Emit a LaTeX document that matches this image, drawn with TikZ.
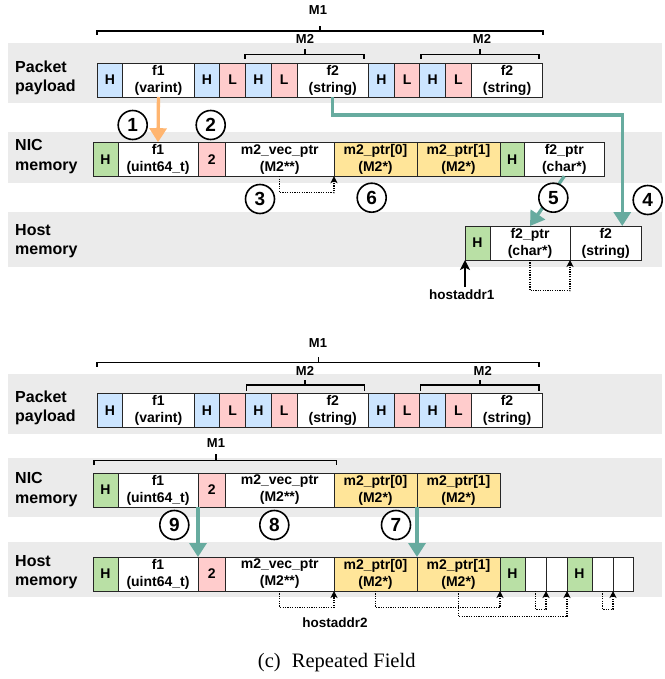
\documentclass[tikz,border=0pt]{standalone}
\usepackage{fontspec}
\setmainfont{Liberation Serif}
\setsansfont{Liberation Sans}
\usetikzlibrary{positioning, arrows.meta, calc}

\definecolor{bandGray}{HTML}{EBEBEB}
\definecolor{hdrBlue}{HTML}{CCE5FF}
\definecolor{lenPink}{HTML}{FFCCCC}
\definecolor{tagGreen}{HTML}{B9E0A5}
\definecolor{ptrYellow}{HTML}{FFE599}
\definecolor{flowOrange}{HTML}{FFB570}
\definecolor{flowTeal}{HTML}{67AB9F}

\begin{document}
\begin{tikzpicture}[
    x=1pt, y=-1pt,
    cell/.style={draw=black!85, line width=0.9pt, outer sep=0pt, inner sep=0pt,
        minimum height=34pt, align=center, font=\sffamily\bfseries\fontsize{14}{17}\selectfont},
    hdr/.style={cell, fill=hdrBlue, minimum width=25.7pt},
    len/.style={cell, fill=lenPink, minimum width=25.7pt},
    fld/.style={cell, fill=white, minimum width=71.5pt},
    tag/.style={cell, fill=tagGreen, minimum width=25pt},
    cnt/.style={cell, fill=lenPink, minimum width=27.5pt},
    ptr/.style={cell, fill=ptrYellow, minimum width=83pt},
    slot/.style={cell, fill=white, minimum width=21pt},
    rowlabel/.style={anchor=west, align=left, inner sep=0pt,
        font=\sffamily\bfseries\fontsize{16}{19.5}\selectfont},
    grp/.style={line width=1.4pt},
    grplabel/.style={inner sep=0pt, font=\sffamily\bfseries\fontsize{13}{15}\selectfont},
    stepnum/.style={circle, draw, fill=white, line width=1.6pt, minimum size=29pt, inner sep=0pt,
        font=\sffamily\bfseries\fontsize{19}{19}\selectfont},
    orangeflow/.style={flowOrange, line width=3.3pt, -{Triangle[width=17pt,length=14pt]}},
    tealflow/.style={flowTeal, line width=3.3pt, -{Triangle[width=17pt,length=14pt]}},
    dotlink/.style={line width=1.2pt, dash pattern=on 1.2pt off 1.2pt,
        -{Stealth[length=7pt,width=7pt,inset=2pt]}},
    addrlabel/.style={inner sep=3pt, font=\sffamily\bfseries\fontsize{13.5}{15}\selectfont},
    addrarrow/.style={line width=1.7pt, -{Stealth[length=10pt,width=10pt,inset=2.5pt]}}
]
    \useasboundingbox (0,0) rectangle (664,679);

    % background bands
    \fill[bandGray] (8,43) rectangle (662,103);
    \fill[bandGray] (8,131.7) rectangle (662,182.7);
    \fill[bandGray] (8,211.7) rectangle (662,266.7);
    \fill[bandGray] (8,374.3) rectangle (662,434.3);
    \fill[bandGray] (8,458.3) rectangle (662,517.3);
    \fill[bandGray] (8,542.3) rectangle (662,596.7);

    % ---------- upper half ----------
    \node[rowlabel] (lpay) at (15,77.7) {Packet\\payload};
    \node[rowlabel] (lnic) at (15,156.5) {NIC\\memory};
    \node[rowlabel] (lhost) at (15,241.2) {Host\\memory};

    \node[hdr, anchor=west] (pH1) at (97,80) {H};
    \node[fld, right=0pt of pH1] (pf1) {f1\\(varint)};
    \node[hdr, right=0pt of pf1] (pH2) {H};
    \node[len, right=0pt of pH2] (pL2) {L};
    \node[hdr, right=0pt of pL2] (pH3) {H};
    \node[len, right=0pt of pH3] (pL3) {L};
    \node[fld, right=0pt of pL3] (pf2) {f2\\(string)};
    \node[hdr, right=0pt of pf2] (pH4) {H};
    \node[len, right=0pt of pH4] (pL4) {L};
    \node[hdr, right=0pt of pL4] (pH5) {H};
    \node[len, right=0pt of pH5] (pL5) {L};
    \node[fld, right=0pt of pL5] (pf3) {f2\\(string)};

    % message brackets
    \draw[grp] (97,35) -- (97,31) -- (543,31) -- (543,35) (320,31) -- (320,26);
    \node[grplabel] (gM1) at (318,10.5) {M1};
    \draw[grp] (245,59) -- (245,54.3) -- (364,54.3) -- (364,59) (305,54.3) -- (305,49.3);
    \node[grplabel] (gM2a) at (305,39) {M2};
    \draw[grp] (421,59) -- (421,54.3) -- (539,54.3) -- (539,59) (480,54.3) -- (480,49.3);
    \node[grplabel] (gM2b) at (482,39) {M2};

    \node[tag, anchor=west] (nH1) at (93,159.2) {H};
    \node[fld, minimum width=80pt, right=0pt of nH1] (nf1) {f1\\(uint64\_t)};
    \node[cnt, right=0pt of nf1] (ncnt) {2};
    \node[fld, minimum width=108.5pt, right=0pt of ncnt] (nvec) {m2\_vec\_ptr\\(M2**)};
    \node[ptr, right=0pt of nvec] (np0) {m2\_ptr[0]\\(M2*)};
    \node[ptr, right=0pt of np0] (np1) {m2\_ptr[1]\\(M2*)};
    \node[tag, minimum width=24.5pt, right=0pt of np1] (nH2) {H};
    \node[fld, minimum width=79.5pt, right=0pt of nH2] (nf2p) {f2\_ptr\\(char*)};

    \node[tag, anchor=west] (hH1) at (465,243) {H};
    \node[fld, minimum width=80pt, right=0pt of hH1] (hf2p) {f2\_ptr\\(char*)};
    \node[fld, right=0pt of hf2p] (hf2) {f2\\(string)};

    \draw[orangeflow] (pf1.south) -- (nf1.north);
    \draw[tealflow] (pf2.south) -- ++(0,18) -| ([xshift=16.5pt]hf2.north);
    \draw[tealflow] (nf2p.south) -- (hf2p.north);

    \draw[dotlink] (nvec.south) -- ++(0,16.5) -| (nvec.south east);
    \draw[dotlink] (hf2p.south) -- ++(0,30.7) -| (hf2p.south east);

    \node[addrlabel] (haddr1) at (461.7,295) {hostaddr1};
    \draw[addrarrow] (haddr1.north -| hH1.south west) -- (hH1.south west);

    \node[stepnum] (s1) at (132.7,125) {1};
    \node[stepnum] (s2) at (210.7,125) {2};
    \node[stepnum] (s3) at (260,199) {3};
    \node[stepnum] (s4) at (647.7,200) {4};
    \node[stepnum] (s5) at (553.3,197.7) {5};
    \node[stepnum] (s6) at (371.7,197.7) {6};

    % ---------- lower half ----------
    \node[rowlabel] (blpay) at (15,407.7) {Packet\\payload};
    \node[rowlabel] (blnic) at (15,489.5) {NIC\\memory};
    \node[rowlabel] (blhost) at (15,572.2) {Host\\memory};

    \node[hdr, anchor=west] (bpH1) at (97,410.5) {H};
    \node[fld, right=0pt of bpH1] (bpf1) {f1\\(varint)};
    \node[hdr, right=0pt of bpf1] (bpH2) {H};
    \node[len, right=0pt of bpH2] (bpL2) {L};
    \node[hdr, right=0pt of bpL2] (bpH3) {H};
    \node[len, right=0pt of bpH3] (bpL3) {L};
    \node[fld, right=0pt of bpL3] (bpf2) {f2\\(string)};
    \node[hdr, right=0pt of bpf2] (bpH4) {H};
    \node[len, right=0pt of bpH4] (bpL4) {L};
    \node[hdr, right=0pt of bpL4] (bpH5) {H};
    \node[len, right=0pt of bpH5] (bpL5) {L};
    \node[fld, right=0pt of bpL5] (bpf3) {f2\\(string)};

    \draw[grp] (97,366.7) -- (97,362.3) -- (539,362.3) -- (539,366.7) (318.3,362.3) -- (318.3,356.7);
    \node[grplabel] (bgM1) at (318,342.7) {M1};
    \draw[grp] (246.7,390.7) -- (246.7,385) -- (364.3,385) -- (364.3,390.7) (305,385) -- (305,380);
    \node[grplabel] (bgM2a) at (305,370.7) {M2};
    \draw[grp] (420.7,390.7) -- (420.7,385) -- (539,385) -- (539,390.7) (480,385) -- (480,380);
    \node[grplabel] (bgM2b) at (482.7,370.7) {M2};
    \draw[grp] (94,465) -- (94,460.7) -- (336.7,460.7) -- (336.7,465) (216,460.7) -- (216,454.3);
    \node[grplabel] (bgM1n) at (216,442.7) {M1};

    \node[tag, anchor=west] (bnH1) at (93,490) {H};
    \node[fld, minimum width=80pt, right=0pt of bnH1] (bnf1) {f1\\(uint64\_t)};
    \node[cnt, right=0pt of bnf1] (bncnt) {2};
    \node[fld, minimum width=108.5pt, right=0pt of bncnt] (bnvec) {m2\_vec\_ptr\\(M2**)};
    \node[ptr, right=0pt of bnvec] (bnp0) {m2\_ptr[0]\\(M2*)};
    \node[ptr, right=0pt of bnp0] (bnp1) {m2\_ptr[1]\\(M2*)};

    \node[tag, anchor=west] (bhH1) at (93,574) {H};
    \node[fld, minimum width=80pt, right=0pt of bhH1] (bhf1) {f1\\(uint64\_t)};
    \node[cnt, right=0pt of bhf1] (bhcnt) {2};
    \node[fld, minimum width=108.5pt, right=0pt of bhcnt] (bhvec) {m2\_vec\_ptr\\(M2**)};
    \node[ptr, right=0pt of bhvec] (bhp0) {m2\_ptr[0]\\(M2*)};
    \node[ptr, right=0pt of bhp0] (bhp1) {m2\_ptr[1]\\(M2*)};
    \node[tag, right=0pt of bhp1] (bhH2) {H};
    \node[slot, right=0pt of bhH2] (bhe1) {};
    \node[slot, right=0pt of bhe1] (bhe2) {};
    \node[tag, right=0pt of bhe2] (bhH3) {H};
    \node[slot, right=0pt of bhH3] (bhe3) {};
    \node[slot, minimum width=20pt, right=0pt of bhe3] (bhe4) {};

    \draw[tealflow] (bnf1.south east) -- (bhf1.north east);
    \draw[tealflow] (bnp0.south east) -- (bhp0.north east);

    \draw[dotlink] (bhvec.south) -- ++(0,16.3) -| (bhvec.south east);
    \draw[dotlink] (bhp0.south) -- ++(0,16.3) -| (bhp1.south east);
    \draw[dotlink] (bhp1.south) -- ++(0,25.7) -| (bhe2.south east);
    \draw[dotlink] (bhe1.south) -- ++(0,18.3) -| (bhe1.south east);
    \draw[dotlink] (bhe3.south) -- ++(0,18.3) -| (bhe3.south east);

    \node[addrlabel] (haddr2) at (335,622.3) {hostaddr2};

    \node[stepnum] (s7) at (396,525) {7};
    \node[stepnum] (s8) at (274.3,525) {8};
    \node[stepnum] (s9) at (174.3,525) {9};

    \node[font=\fontsize{20.5}{24}\selectfont] (caption) at (336.7,662.7) {(c)\hspace{0.55em}Repeated Field};
\end{tikzpicture}
\end{document}
